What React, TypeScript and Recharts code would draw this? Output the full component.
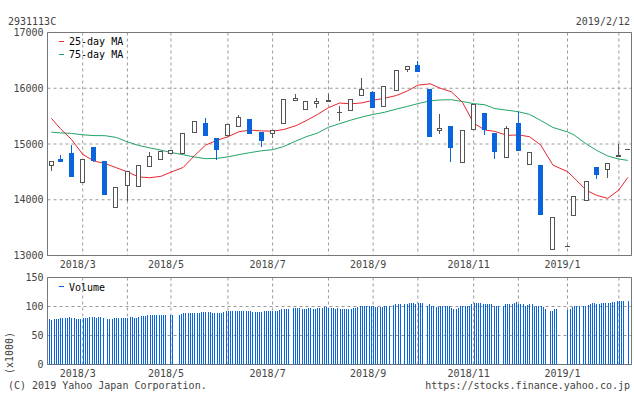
import {
  ComposedChart,
  Bar,
  Line,
  XAxis,
  YAxis,
  CartesianGrid,
  ReferenceArea,
} from "recharts";

const FONT = '"DejaVu Sans Mono", "Liberation Mono", monospace';
const BLUE = "#0a64dc";
const RED = "#e8262d";
const GREEN = "#21a366";
const CANDLE_LINE = "#555";
const GRID = "#9a9a9a";
const FRAME = "#777";
const TEXT = "#444";

// weekly candles (week start, Monday)
const weeks = [
  "2018-02-12", "2018-02-19", "2018-02-26", "2018-03-05", "2018-03-12", "2018-03-19", "2018-03-26",
  "2018-04-02", "2018-04-09", "2018-04-16", "2018-04-23", "2018-04-30", "2018-05-07", "2018-05-14",
  "2018-05-21", "2018-05-28", "2018-06-04", "2018-06-11", "2018-06-18", "2018-06-25", "2018-07-02",
  "2018-07-09", "2018-07-16", "2018-07-23", "2018-07-30", "2018-08-06", "2018-08-13", "2018-08-20",
  "2018-08-27", "2018-09-03", "2018-09-10", "2018-09-17", "2018-09-24", "2018-10-01", "2018-10-08",
  "2018-10-15", "2018-10-22", "2018-10-29", "2018-11-05", "2018-11-12", "2018-11-19", "2018-11-26",
  "2018-12-03", "2018-12-10", "2018-12-17", "2018-12-24", "2018-12-31", "2019-01-07", "2019-01-14",
  "2019-01-21", "2019-01-28", "2019-02-04", "2019-02-11",
];

const open = [
  14610, 14725, 14830, 14305, 14955, 14690, 13860, 14255, 14230, 14595,
  14720, 14825, 14825, 15205, 15370, 15115, 15150, 15310, 15440, 15210,
  15185, 15365, 15775, 15615, 15720, 15750, 15565, 15590, 15865, 15925,
  15660, 15955, 16330, 16410, 15980, 15240, 15315, 14665, 15260, 15550,
  15190, 14755, 15385, 14630, 14615, 13090, 13165, 13715, 13985, 14580,
  14540, 14775, 14890,
];
const high = [
  14700, 14795, 14975, 14735, 14955, 14690, 14235, 14510, 14615, 14855,
  14880, 14900, 15190, 15405, 15460, 15115, 15365, 15515, 15440, 15210,
  15255, 15810, 15900, 15775, 15830, 15890, 15675, 15815, 16180, 15945,
  16045, 16335, 16405, 16480, 15980, 15545, 15315, 15255, 15710, 15550,
  15190, 15315, 15570, 14860, 14615, 13695, 13180, 14075, 14340, 14580,
  14665, 15000, 14915,
];
const low = [
  14515, 14675, 14405, 14305, 14670, 14085, 13860, 13970, 14230, 14595,
  14720, 14825, 14825, 15205, 15140, 14720, 15150, 15310, 15180, 14945,
  15115, 15365, 15775, 15615, 15650, 15750, 15410, 15590, 15865, 15645,
  15660, 15955, 16290, 16290, 15125, 15180, 14675, 14665, 15260, 15160,
  14730, 14755, 14875, 14630, 13725, 13090, 13160, 13715, 13985, 14370,
  14390, 14770, 14885,
];
const close = [
  14700, 14675, 14405, 14735, 14690, 14085, 14235, 14510, 14615, 14780,
  14880, 14900, 15190, 15405, 15140, 14890, 15365, 15490, 15180, 15050,
  15255, 15810, 15830, 15775, 15775, 15795, 15575, 15815, 15990, 15645,
  16045, 16335, 16405, 16290, 15125, 15290, 14925, 15255, 15710, 15250,
  14855, 15290, 14875, 14860, 13725, 13695, 13175, 14075, 14340, 14445,
  14665, 14795, 14910,
];

// moving averages read at each candle
const ma25 = [
  15460, 15275, 15080, 14815, 14695, 14650, 14575, 14500, 14410, 14395,
  14420, 14495, 14580, 14790, 14980, 15065, 15130, 15222, 15250, 15235,
  15230, 15260, 15330, 15418, 15527, 15652, 15735, 15720, 15738, 15785,
  15820, 15871, 15955, 16055, 16080, 16002, 15937, 15746, 15373, 15251,
  15226, 15154, 15163, 15131, 14982, 14620, 14504, 14390, 14169, 14079,
  14025, 14175, 14400,
];
const ma75 = [
  15213, 15199, 15190, 15165, 15151, 15149, 15118, 15038, 14975, 14930,
  14890, 14848, 14808, 14766, 14737, 14742, 14769, 14810, 14846, 14878,
  14898, 14955, 15055, 15130, 15195, 15300, 15365, 15428, 15484, 15531,
  15568, 15627, 15676, 15724, 15774, 15790, 15794, 15762, 15724, 15704,
  15634, 15606, 15579, 15531, 15423, 15296, 15217, 15160, 14997, 14887,
  14785, 14730, 14706,
];

// daily volume (x1000), Mon..Fri per week, null = no trading
const volume: (number | null)[][] = [
  [null, null, 78, 77, 78],
  [78, 78.5, 79.5, 79.5, 79.5],
  [80, 81.5, 81, 80, 78.5],
  [78.5, 79, 79.5, 80, 80],
  [81.5, 81.5, 81.5, 81, 81.5],
  [81.5, 80, null, 79, 78],
  [78, 79.5, 80, 80, 80],
  [80.5, 80.5, 81, 81.5, 81.5],
  [80.5, 80.5, 81.5, 83, 83],
  [84, 84.5, 85, 84.5, 84.5],
  [85, 85, 85.5, 85.5, 85.5],
  [null, 85, 85, null, null],
  [85.5, 87.5, 88.5, 88.5, 88.5],
  [88.5, 89, 89, 89, 89],
  [90, 90, 90, 90, 90],
  [88.5, 88, 89, 89, 89],
  [90, 92, 92, 92, 92],
  [92, 92, 92, 92, 92],
  [92, 92, 92, 91, 90],
  [90, 90, 91, 92, 92],
  [92, 92, 93, 93, 93],
  [94, 95, 95.5, 95.5, 95.5],
  [null, 97, 97, 97, 97],
  [96, 95.5, 95.5, 97, 97],
  [96, 96, 97, 97, 97],
  [98.5, 98.5, 97, 97, 97],
  [96, 97, 96.5, 95.5, 96.5],
  [96.5, 96.5, 96.5, 98, 98],
  [99.5, 100.5, 100.5, 101.5, 100.5],
  [100.5, 100.5, 100.5, 99.5, 99.5],
  [99.5, 99.5, 100.5, 101.5, 101.5],
  [null, 102, 104, 104, 104],
  [null, 104, 104, 105.5, 105.5],
  [105.5, 105, 105.5, 105.5, 105.5],
  [null, 101.5, 104, 100.5, 100.5],
  [99.5, 99.5, 101.5, 100.5, 100.5],
  [100.5, 100.5, 97.5, 96.5, 96.5],
  [97.5, 100.5, 100.5, 101.5, 101.5],
  [101.5, 104, 105.5, 105.5, 105.5],
  [105.5, 104, 104, 104, 104],
  [104, 101.5, 100.5, 101.5, null],
  [101.5, 104, 105, 105, 105],
  [105.5, 107.5, 104, 104, 104],
  [101.5, 102, 104, 104, 99.5],
  [101.5, 100.5, 100.5, 99.5, 96.5],
  [null, 92.5, 93, 95, 96.5],
  [null, null, null, null, 93.5],
  [96.5, 99.5, 100.5, 100.5, 100.5],
  [null, 100.5, 101.5, 103, 104],
  [105.5, 105.5, 104, 104, 105.5],
  [105.5, 105.5, 105.5, 105.5, 107.5],
  [108, 109.5, 109.5, 109.5, 109.5],
  [null, 109.5, null, null, null],
];

const monthTicks = [
  { week: "2018-03-05", label: "2018/3" },
  { week: "2018-04-02", label: "" },
  { week: "2018-04-30", label: "2018/5" },
  { week: "2018-06-04", label: "" },
  { week: "2018-07-02", label: "2018/7" },
  { week: "2018-08-06", label: "" },
  { week: "2018-09-03", label: "2018/9" },
  { week: "2018-10-01", label: "" },
  { week: "2018-11-05", label: "2018/11" },
  { week: "2018-12-03", label: "" },
  { week: "2018-12-31", label: "2019/1" },
  { week: "2019-02-04", label: "" },
];

const priceTicks = [13000, 14000, 15000, 16000, 17000];
const volumeTicks = [0, 50, 100, 150];

// x axis counts weekday slots, 5 per week
const X_DOMAIN: [number, number] = [1.24, 262.64];

const candleData = weeks.map((week, i) => {
  const days = volume[i].map((v, d) => (v == null ? -1 : d)).filter((d) => d >= 0);
  const mid = days.reduce((a, b) => a + b, 0) / days.length;
  return {
    week,
    x: i * 5 + mid,
    open: open[i],
    high: high[i],
    low: low[i],
    close: close[i],
    ma25: ma25[i],
    ma75: ma75[i],
  };
});

const volumeData = volume.flatMap((days, i) =>
  days
    .map((v, d) => ({ x: i * 5 + d, v }))
    .filter((p) => p.v != null)
);

const tickXs = monthTicks.map((m) => candleData[weeks.indexOf(m.week)].x);

function MonthTick(props: any) {
  const { x, y, index } = props;
  const label = monthTicks[index]?.label;
  if (!label) return null;
  return (
    <text x={x - 5} y={y + 12.3} textAnchor="middle" fill={TEXT} fontSize={10} fontFamily={FONT}>
      {label}
    </text>
  );
}

function Candle(props: any) {
  const { x, y, width, height, payload } = props;
  if (x == null || y == null || !payload) return null;
  const { open: o, close: c, high: h, low: l } = payload;
  const toY = (v: number) => (h === l ? y : y + ((h - v) / (h - l)) * height);
  const col = Math.floor(x + width / 2);
  const left = col - 2;
  const up = c >= o;
  const top = Math.round(toY(Math.max(o, c)));
  const bottom = Math.round(toY(Math.min(o, c)));
  const color = up ? CANDLE_LINE : BLUE;
  const wick = (
    <line
      x1={col + 0.5}
      x2={col + 0.5}
      y1={Math.round(toY(h))}
      y2={Math.round(toY(l))}
      stroke={color}
    />
  );
  if (bottom - top < 2) {
    return (
      <g>
        {wick}
        <line x1={left} x2={left + 5} y1={top + 0.5} y2={top + 0.5} stroke={color} />
      </g>
    );
  }
  return (
    <g>
      {wick}
      {up ? (
        <rect x={left + 0.5} y={top + 0.5} width={4} height={bottom - top - 1} fill="#fff" stroke={color} />
      ) : (
        <rect x={left} y={top} width={5} height={bottom - top} fill={BLUE} />
      )}
    </g>
  );
}

function VolumeBar(props: any) {
  const { x, y, width, height } = props;
  if (x == null || !height) return null;
  const col = Math.floor(x + width / 2);
  const top = Math.round(y);
  return <rect x={col} y={top} width={1} height={Math.round(y + height) - top} fill={BLUE} />;
}

const yTick = { fill: TEXT, fontSize: 10, fontFamily: FONT };

export default function App() {
  return (
    <div
      style={{
        position: "absolute",
        left: 0,
        top: 0,
        width: 634,
        height: 394,
        background: "#fff",
        overflow: "hidden",
      }}
    >
      <div style={{ position: "absolute", left: 0, top: 0 }}>
        <ComposedChart
          width={634}
          height={280}
          data={candleData}
          margin={{ top: 32.5, right: 2.5, bottom: 4.5, left: 7.5 }}
        >
          <CartesianGrid stroke={GRID} strokeDasharray="3 3" />
          <XAxis
            dataKey="x"
            type="number"
            domain={X_DOMAIN}
            allowDataOverflow
            ticks={tickXs}
            interval={0}
            tick={<MonthTick />}
            tickLine={false}
            axisLine={false}
            tickSize={0}
            tickMargin={0}
            height={20}
          />
          <YAxis
            type="number"
            domain={[13000, 17000]}
            allowDataOverflow
            ticks={priceTicks}
            interval={0}
            width={40}
            tickLine={false}
            axisLine={false}
            tickSize={0}
            tickMargin={4}
            tick={yTick}
          />
          <Line
            dataKey="ma75"
            stroke={GREEN}
            strokeWidth={1}
            dot={false}
            type="linear"
            isAnimationActive={false}
          />
          <Line
            dataKey="ma25"
            stroke={RED}
            strokeWidth={1}
            dot={false}
            type="linear"
            isAnimationActive={false}
          />
          <Bar
            dataKey={(d: any) => [d.low, d.high]}
            shape={<Candle />}
            barSize={6}
            isAnimationActive={false}
            zIndex={450}
          />
          <ReferenceArea
            x1={X_DOMAIN[0]}
            x2={X_DOMAIN[1]}
            y1={13000}
            y2={17000}
            fill="none"
            fillOpacity={0}
            stroke={FRAME}
            ifOverflow="visible"
          />
        </ComposedChart>
      </div>

      <div style={{ position: "absolute", left: 0, top: 0 }}>
        <ComposedChart
          width={634}
          height={394}
          data={volumeData}
          margin={{ top: 277.5, right: 2.5, bottom: 9.5, left: 7.5 }}
        >
          <CartesianGrid stroke={GRID} strokeDasharray="3 3" />
          <XAxis
            dataKey="x"
            type="number"
            domain={X_DOMAIN}
            allowDataOverflow
            ticks={tickXs}
            interval={0}
            tick={<MonthTick />}
            tickLine={false}
            axisLine={false}
            tickSize={0}
            tickMargin={0}
            height={20}
          />
          <YAxis
            type="number"
            domain={[0, 150]}
            allowDataOverflow
            ticks={volumeTicks}
            interval={0}
            width={40}
            tickLine={false}
            axisLine={false}
            tickSize={0}
            tickMargin={4}
            tick={yTick}
          />
          <Bar dataKey="v" shape={<VolumeBar />} barSize={1} isAnimationActive={false} />
          <ReferenceArea
            x1={X_DOMAIN[0]}
            x2={X_DOMAIN[1]}
            y1={0}
            y2={150}
            fill="none"
            fillOpacity={0}
            stroke={FRAME}
            ifOverflow="visible"
          />
        </ComposedChart>
      </div>

      <svg
        width={634}
        height={394}
        style={{ position: "absolute", left: 0, top: 0, pointerEvents: "none" }}
        fontFamily={FONT}
        fontSize={10}
      >
        <text x={8} y={25} fill={TEXT}>2931113C</text>
        <text x={630} y={25} fill={TEXT} textAnchor="end">2019/2/12</text>

        <line x1={59} x2={64} y1={41.5} y2={41.5} stroke={RED} />
        <text x={69} y={45} fill="#000">25-day MA</text>
        <line x1={59} x2={64} y1={54.5} y2={54.5} stroke={GREEN} />
        <text x={69} y={58} fill="#000">75-day MA</text>

        <line x1={59} x2={64} y1={286.5} y2={286.5} stroke={BLUE} />
        <text x={69} y={290.5} fill="#000">Volume</text>

        <text x={13} y={353} fill={TEXT} textAnchor="middle" transform="rotate(-90 13 353)">
          (x1000)
        </text>

        <text x={8} y={389} fill={TEXT}>(C) 2019 Yahoo Japan Corporation.</text>
        <text x={630} y={389} fill={TEXT} textAnchor="end">https://stocks.finance.yahoo.co.jp</text>
      </svg>
    </div>
  );
}
